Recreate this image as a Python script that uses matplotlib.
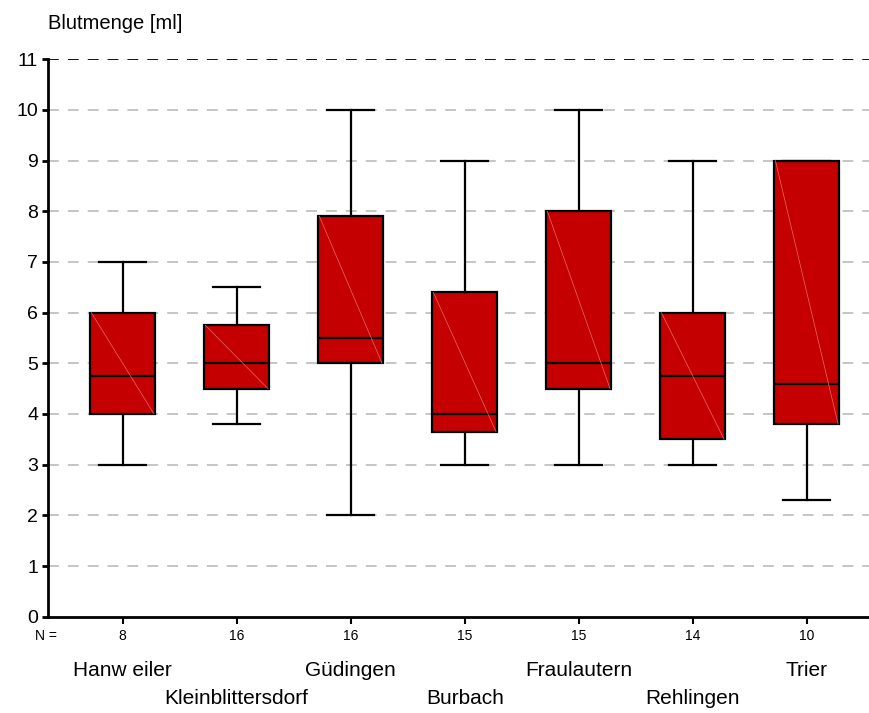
import numpy as np
import matplotlib.pyplot as plt

plt.rcParams['font.family'] = ['Liberation Sans', 'DejaVu Sans']

# Standorte und Boxplot-Kennwerte (Blutmenge in ml)
orte = ['Hanw eiler', 'Kleinblittersdorf', 'Güdingen', 'Burbach',
        'Fraulautern', 'Rehlingen', 'Trier']
n_werte = [8, 16, 16, 15, 15, 14, 10]
wh_unten = [3.0, 3.8, 2.0, 3.0, 3.0, 3.0, 2.3]
q1 = [4.0, 4.5, 5.0, 3.65, 4.5, 3.5, 3.8]
median = [4.75, 5.0, 5.5, 4.0, 5.0, 4.75, 4.6]
q3 = [6.0, 5.75, 7.9, 6.4, 8.0, 6.0, 9.0]
wh_oben = [7.0, 6.5, 10.0, 9.0, 10.0, 9.0, 9.0]

stats = []
for i in range(len(orte)):
    stats.append({'whislo': wh_unten[i], 'q1': q1[i], 'med': median[i],
                  'q3': q3[i], 'whishi': wh_oben[i], 'fliers': []})

fig = plt.figure(figsize=(8.69, 7.13), dpi=100)
ax = fig.add_axes([0.0552, 0.135, 0.9448, 0.782])

# Gitterlinien
for y in range(1, 11):
    ax.axhline(y, color='#c0c0c0', lw=1.3, ls=(0, (6, 5)), zorder=0)
ax.axhline(11, color='black', lw=1.3, ls=(0, (6, 5)), zorder=0)

pos = np.arange(1, len(orte) + 1)
ax.bxp(stats, positions=pos, widths=0.57, patch_artist=True, showfliers=False,
       boxprops=dict(facecolor='#c40000', edgecolor='black', lw=1.6),
       medianprops=dict(color='black', lw=1.6),
       whiskerprops=dict(color='black', lw=1.6),
       capprops=dict(color='black', lw=1.6),
       capwidths=0.41)

# feine Diagonale in den Boxen
for p, a, b in zip(pos, q1, q3):
    ax.plot([p - 0.275, p + 0.275], [b, a], color='#e86a6a', lw=0.5, zorder=3)

ax.set_xlim(0.345, 7.546)
ax.set_ylim(0, 11)
ax.set_yticks(range(0, 12))
ax.tick_params(axis='y', labelsize=14, length=4, width=2, pad=3)
ax.set_xticks(pos)
ax.set_xticklabels([str(n) for n in n_werte], fontsize=10)
ax.tick_params(axis='x', length=5, width=1.5, pad=4)

for s in ['top', 'right']:
    ax.spines[s].set_visible(False)
for s in ['left', 'bottom']:
    ax.spines[s].set_linewidth(2)

fig.text(48 / 869, 1 - 29 / 713, 'Blutmenge [ml]', fontsize=14.5,
         va='baseline', ha='left')
fig.text(35 / 869, 1 - 640 / 713, 'N =', fontsize=10, va='baseline', ha='left')

# Ortsnamen abwechselnd in zwei Zeilen
for i, (p, name) in enumerate(zip(pos, orte)):
    y_txt = -0.106 if i % 2 == 0 else -0.156
    ax.text(p, y_txt, name, transform=ax.get_xaxis_transform(),
            ha='center', va='baseline', fontsize=15)

fig.savefig('out.png', dpi=100)
